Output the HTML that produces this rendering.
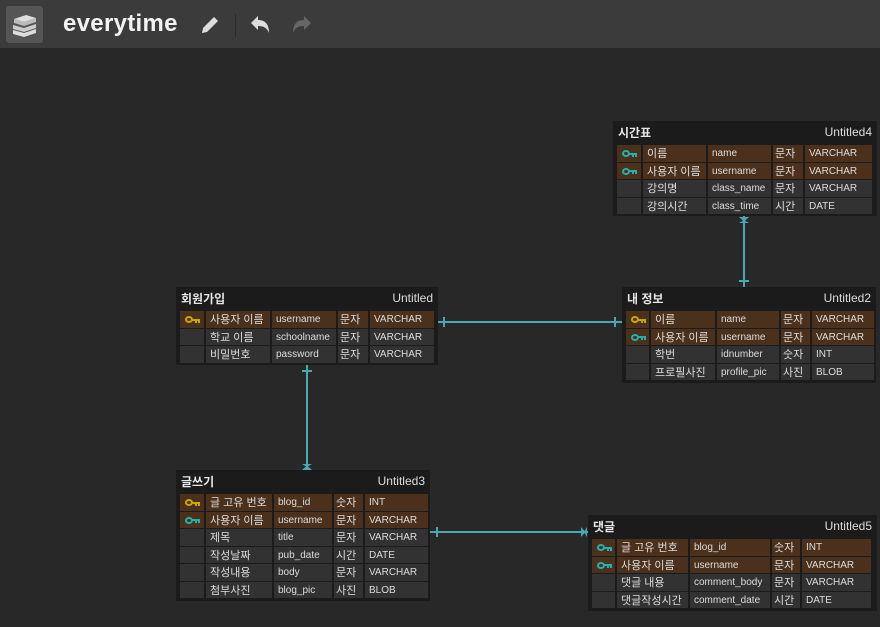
<!DOCTYPE html>
<html><head><meta charset="utf-8"><style>
*{margin:0;padding:0;box-sizing:border-box}
body{width:880px;height:627px;background:#282828;position:relative;overflow:hidden;font-family:"Liberation Sans","Noto Sans CJK KR",sans-serif}
.top{position:absolute;left:0;top:0;width:880px;height:48px;background:#3b3b3b}
.logo{position:absolute;left:6px;top:6px;width:37px;height:37px;background:#555;border-radius:3px}
.ttl{position:absolute;left:63px;top:10px;font-size:24px;font-weight:bold;color:#f2f2f2;letter-spacing:0.3px}
.sep{position:absolute;left:235px;top:14px;width:1px;height:23px;background:#2a2a2a}
.t{position:absolute;background:#1b1b1b;padding:0 4px}
.hd{height:22px;display:flex;justify-content:space-between;align-items:center;color:#e6e6e6;font-size:12px;padding:0 1px;margin-bottom:2px;font-weight:bold}
.hd span:last-child{font-size:12px;color:#ddd;font-weight:normal}
.r{display:grid;height:16.5px;margin-bottom:1px;column-gap:2px}
.r div{background:#323232;color:#ddd;font-size:10px;line-height:16.5px;padding-top:1px;padding-left:4px;white-space:nowrap;overflow:hidden}
.r.k div{background:#4b301c}
.r div.n{font-size:11px}
.r div.kr{font-size:11px;padding-left:2px}
.key{position:relative}
.key i{position:absolute;left:5px;top:5px;width:8px;height:7px;border:2px solid;border-radius:50%}
.key b{position:absolute;left:12px;top:7.5px;width:8px;height:2px}
.key b:after{content:"";position:absolute;left:3px;top:0;width:2px;height:4px;background:inherit;box-shadow:3px 0 0 currentColor}
.g i{border-color:#c9a800}.g b{background:#c9a800;color:#c9a800}
.c i{border-color:#22b0b0}.c b{background:#22b0b0;color:#22b0b0}
.ln{position:absolute;background:#4aa8ae}
</style></head><body>
<div class="top">
<div class="logo"><svg width="37" height="37" viewBox="0 0 37 37"><path d="M8 13l12-4 10 3-12 4z" fill="#ddd"/><path d="M8 13v4l10 3 12-4v-4l-12 4z" fill="#bbb"/><path d="M7 19v4l11 3 12-4v-4l-12 4z" fill="#ccc"/><path d="M7 24v4l11 3 12-4v-4l-12 4z" fill="#ddd"/></svg></div>
<div class="ttl">everytime</div>
<svg style="position:absolute;left:199px;top:14px" width="22" height="22" viewBox="0 0 22 22"><path d="M3 19l1-5L15 3l4 4L8 18z" fill="#ddd"/></svg>
<div class="sep"></div>
<svg style="position:absolute;left:249px;top:14px" width="22" height="22" viewBox="0 0 22 22"><path d="M2 9l7-7v4c7 0 11 4 11 13-2-5-5-7-11-7v4z" fill="#ddd"/></svg>
<svg style="position:absolute;left:291px;top:14px" width="22" height="22" viewBox="0 0 22 22"><path d="M20 9l-7-7v4C6 6 2 10 2 19c2-5 5-7 11-7v4z" fill="#666"/></svg>
</div>

<div class="ln" style="left:438px;top:321px;width:184px;height:2px"></div>
<div class="ln" style="left:443px;top:317px;width:2px;height:10px"></div>
<div class="ln" style="left:614px;top:317px;width:2px;height:10px"></div>
<div class="ln" style="left:306px;top:365px;width:2px;height:105px"></div>
<div class="ln" style="left:302px;top:370px;width:10px;height:2px"></div>
<div class="ln" style="left:302px;top:464px;width:10px;height:6px;clip-path:polygon(0 0,100% 0,60% 40%,100% 100%,0 100%,40% 40%)"></div>
<div class="ln" style="left:743px;top:216px;width:2px;height:71px"></div>
<div class="ln" style="left:739px;top:217px;width:10px;height:6px;clip-path:polygon(0 0,100% 0,60% 60%,100% 100%,0 100%,40% 60%)"></div>
<div class="ln" style="left:739px;top:280px;width:10px;height:2px"></div>
<div class="ln" style="left:430px;top:531px;width:158px;height:2px"></div>
<div class="ln" style="left:436px;top:527px;width:2px;height:10px"></div>
<div class="ln" style="left:581px;top:527px;width:6px;height:10px;clip-path:polygon(0 0,0 100%,60% 60%,100% 100%,100% 0,60% 40%)"></div>

<div class="t" style="left:613px;top:121px;width:264px;height:95px">
<div class="hd"><span>시간표</span><span>Untitled4</span></div>
<div class="r k" style="grid-template-columns:24px 63px 63px 30px 67px"><div class="key c"><i></i><b></b></div><div class="n">이름</div><div>name</div><div class="kr">문자</div><div>VARCHAR</div></div>
<div class="r k" style="grid-template-columns:24px 63px 63px 30px 67px"><div class="key c"><i></i><b></b></div><div class="n">사용자 이름</div><div>username</div><div class="kr">문자</div><div>VARCHAR</div></div>
<div class="r" style="grid-template-columns:24px 63px 63px 30px 67px"><div></div><div class="n">강의명</div><div>class_name</div><div class="kr">문자</div><div>VARCHAR</div></div>
<div class="r" style="grid-template-columns:24px 63px 63px 30px 67px"><div></div><div class="n">강의시간</div><div>class_time</div><div class="kr">시간</div><div>DATE</div></div>
</div>

<div class="t" style="left:176px;top:287px;width:262px;height:78px">
<div class="hd"><span>회원가입</span><span>Untitled</span></div>
<div class="r k" style="grid-template-columns:24px 64px 64px 30px 64px"><div class="key g"><i></i><b></b></div><div class="n">사용자 이름</div><div>username</div><div class="kr">문자</div><div>VARCHAR</div></div>
<div class="r" style="grid-template-columns:24px 64px 64px 30px 64px"><div></div><div class="n">학교 이름</div><div>schoolname</div><div class="kr">문자</div><div>VARCHAR</div></div>
<div class="r" style="grid-template-columns:24px 64px 64px 30px 64px"><div></div><div class="n">비밀번호</div><div>password</div><div class="kr">문자</div><div>VARCHAR</div></div>
</div>

<div class="t" style="left:622px;top:287px;width:254px;height:96px">
<div class="hd"><span>내 정보</span><span>Untitled2</span></div>
<div class="r k" style="grid-template-columns:23px 64px 62px 29px 62px"><div class="key g"><i></i><b></b></div><div class="n">이름</div><div>name</div><div class="kr">문자</div><div>VARCHAR</div></div>
<div class="r k" style="grid-template-columns:23px 64px 62px 29px 62px"><div class="key c"><i></i><b></b></div><div class="n">사용자 이름</div><div>username</div><div class="kr">문자</div><div>VARCHAR</div></div>
<div class="r" style="grid-template-columns:23px 64px 62px 29px 62px"><div></div><div class="n">학번</div><div>idnumber</div><div class="kr">숫자</div><div>INT</div></div>
<div class="r" style="grid-template-columns:23px 64px 62px 29px 62px"><div></div><div class="n">프로필사진</div><div>profile_pic</div><div class="kr">사진</div><div>BLOB</div></div>
</div>

<div class="t" style="left:176px;top:470px;width:254px;height:131px">
<div class="hd"><span>글쓰기</span><span>Untitled3</span></div>
<div class="r k" style="grid-template-columns:24px 66px 58px 29px 63px"><div class="key g"><i></i><b></b></div><div class="n">글 고유 번호</div><div>blog_id</div><div class="kr">숫자</div><div>INT</div></div>
<div class="r k" style="grid-template-columns:24px 66px 58px 29px 63px"><div class="key c"><i></i><b></b></div><div class="n">사용자 이름</div><div>username</div><div class="kr">문자</div><div>VARCHAR</div></div>
<div class="r" style="grid-template-columns:24px 66px 58px 29px 63px"><div></div><div class="n">제목</div><div>title</div><div class="kr">문자</div><div>VARCHAR</div></div>
<div class="r" style="grid-template-columns:24px 66px 58px 29px 63px"><div></div><div class="n">작성날짜</div><div>pub_date</div><div class="kr">시간</div><div>DATE</div></div>
<div class="r" style="grid-template-columns:24px 66px 58px 29px 63px"><div></div><div class="n">작성내용</div><div>body</div><div class="kr">문자</div><div>VARCHAR</div></div>
<div class="r" style="grid-template-columns:24px 66px 58px 29px 63px"><div></div><div class="n">첨부사진</div><div>blog_pic</div><div class="kr">사진</div><div>BLOB</div></div>
</div>

<div class="t" style="left:588px;top:515px;width:289px;height:96px">
<div class="hd"><span>댓글</span><span>Untitled5</span></div>
<div class="r k" style="grid-template-columns:23px 71px 80px 28px 69px"><div class="key c"><i></i><b></b></div><div class="n">글 고유 번호</div><div>blog_id</div><div class="kr">숫자</div><div>INT</div></div>
<div class="r k" style="grid-template-columns:23px 71px 80px 28px 69px"><div class="key c"><i></i><b></b></div><div class="n">사용자 이름</div><div>username</div><div class="kr">문자</div><div>VARCHAR</div></div>
<div class="r" style="grid-template-columns:23px 71px 80px 28px 69px"><div></div><div class="n">댓글 내용</div><div>comment_body</div><div class="kr">문자</div><div>VARCHAR</div></div>
<div class="r" style="grid-template-columns:23px 71px 80px 28px 69px"><div></div><div class="n">댓글작성시간</div><div>comment_date</div><div class="kr">시간</div><div>DATE</div></div>
</div>
</body></html>
